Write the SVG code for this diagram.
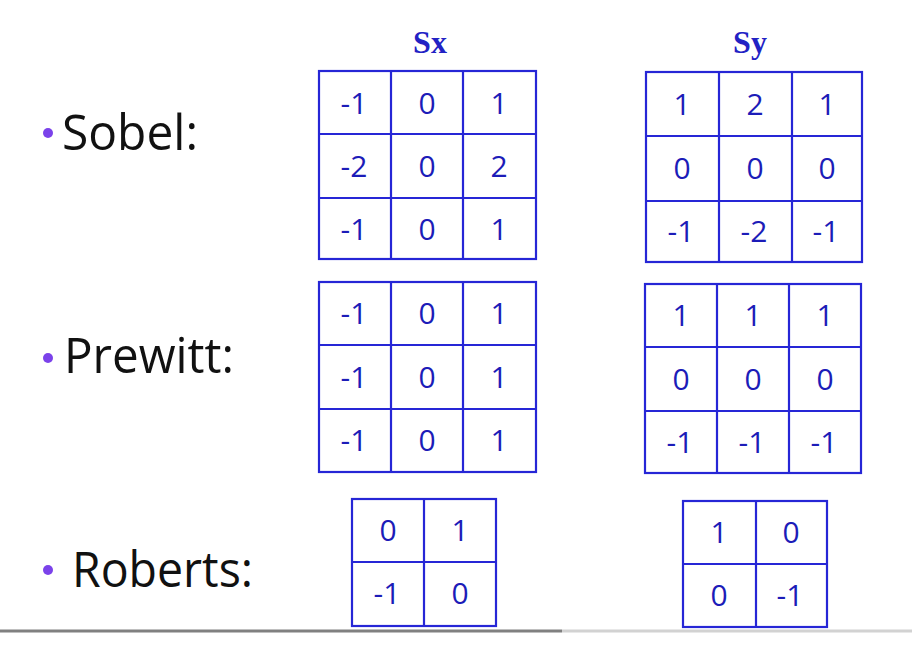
<svg xmlns="http://www.w3.org/2000/svg" width="912" height="653" viewBox="0 0 912 653">
<style>
.grid{fill:#ffffff;stroke:#2626d6;stroke-width:2.2}
.in{stroke:#2626d6;stroke-width:2.2}
.num{font-family:"Open Sans","Liberation Sans",sans-serif;font-size:30px;fill:#1c1cb8;text-anchor:middle}
.hd{font-family:"Liberation Serif","Times New Roman",serif;font-weight:bold;font-size:32px;fill:#2222c4;text-anchor:middle}
.lbl{font-family:"Open Sans","Liberation Sans",sans-serif;font-size:49px;fill:#111111}
.dot{fill:#7b42ea}
</style>
<rect width="912" height="653" fill="#ffffff"/>

<g id="label-sobel">
<circle class="dot" cx="48" cy="133" r="5"/>
<text class="lbl" x="62" y="150" textLength="136" lengthAdjust="spacingAndGlyphs">Sobel:</text>
</g>
<g id="label-prewitt">
<circle class="dot" cx="48" cy="358" r="5"/>
<text class="lbl" x="64" y="373" textLength="170" lengthAdjust="spacingAndGlyphs">Prewitt:</text>
</g>
<g id="label-roberts">
<circle class="dot" cx="48" cy="570" r="5"/>
<text class="lbl" x="72" y="587" textLength="181" lengthAdjust="spacingAndGlyphs">Roberts:</text>
</g>

<g id="header-sx"><text class="hd" x="430" y="53">Sx</text></g>
<g id="header-sy"><text class="hd" x="750" y="53">Sy</text></g>

<g id="sobel-sx">
<rect class="grid" x="319" y="71" width="217" height="188"/>
<line class="in" x1="391" y1="71" x2="391" y2="259"/>
<line class="in" x1="463" y1="71" x2="463" y2="259"/>
<line class="in" x1="319" y1="134" x2="536" y2="134"/>
<line class="in" x1="319" y1="198" x2="536" y2="198"/>
<text class="num" x="354" y="114">-1</text><text class="num" x="427" y="114">0</text><text class="num" x="499" y="114">1</text>
<text class="num" x="354" y="177">-2</text><text class="num" x="427" y="177">0</text><text class="num" x="499" y="177">2</text>
<text class="num" x="354" y="240">-1</text><text class="num" x="427" y="240">0</text><text class="num" x="499" y="240">1</text>
</g>

<g id="sobel-sy">
<rect class="grid" x="646" y="72" width="216" height="190"/>
<line class="in" x1="719" y1="72" x2="719" y2="262"/>
<line class="in" x1="792" y1="72" x2="792" y2="262"/>
<line class="in" x1="646" y1="136" x2="862" y2="136"/>
<line class="in" x1="646" y1="201" x2="862" y2="201"/>
<text class="num" x="682" y="115">1</text><text class="num" x="755" y="115">2</text><text class="num" x="827" y="115">1</text>
<text class="num" x="682" y="179">0</text><text class="num" x="755" y="179">0</text><text class="num" x="827" y="179">0</text>
<text class="num" x="681" y="242">-1</text><text class="num" x="754" y="242">-2</text><text class="num" x="826" y="242">-1</text>
</g>

<g id="prewitt-sx">
<rect class="grid" x="319" y="282" width="217" height="190"/>
<line class="in" x1="391" y1="282" x2="391" y2="472"/>
<line class="in" x1="463" y1="282" x2="463" y2="472"/>
<line class="in" x1="319" y1="345" x2="536" y2="345"/>
<line class="in" x1="319" y1="409" x2="536" y2="409"/>
<text class="num" x="354" y="324">-1</text><text class="num" x="427" y="324">0</text><text class="num" x="499" y="324">1</text>
<text class="num" x="354" y="388">-1</text><text class="num" x="427" y="388">0</text><text class="num" x="499" y="388">1</text>
<text class="num" x="354" y="451">-1</text><text class="num" x="427" y="451">0</text><text class="num" x="499" y="451">1</text>
</g>

<g id="prewitt-sy">
<rect class="grid" x="645" y="284" width="216" height="189"/>
<line class="in" x1="717" y1="284" x2="717" y2="473"/>
<line class="in" x1="789" y1="284" x2="789" y2="473"/>
<line class="in" x1="645" y1="347" x2="861" y2="347"/>
<line class="in" x1="645" y1="411" x2="861" y2="411"/>
<text class="num" x="681" y="326">1</text><text class="num" x="753" y="326">1</text><text class="num" x="825" y="326">1</text>
<text class="num" x="681" y="390">0</text><text class="num" x="753" y="390">0</text><text class="num" x="825" y="390">0</text>
<text class="num" x="680" y="453">-1</text><text class="num" x="752" y="453">-1</text><text class="num" x="824" y="453">-1</text>
</g>

<g id="roberts-x">
<rect class="grid" x="352" y="499" width="144" height="127"/>
<line class="in" x1="424" y1="499" x2="424" y2="626"/>
<line class="in" x1="352" y1="562" x2="496" y2="562"/>
<text class="num" x="388" y="541">0</text><text class="num" x="460" y="541">1</text>
<text class="num" x="387" y="604">-1</text><text class="num" x="460" y="604">0</text>
</g>

<g id="roberts-y">
<rect class="grid" x="683" y="501" width="144" height="126"/>
<line class="in" x1="756" y1="501" x2="756" y2="627"/>
<line class="in" x1="683" y1="564" x2="827" y2="564"/>
<text class="num" x="719" y="543">1</text><text class="num" x="791" y="543">0</text>
<text class="num" x="719" y="606">0</text><text class="num" x="790" y="606">-1</text>
</g>

<g id="progress-bar">
<rect x="0" y="629.5" width="562" height="3" fill="#808080"/>
<rect x="562" y="629.5" width="350" height="3" fill="#d2d2d2"/>
</g>
</svg>
